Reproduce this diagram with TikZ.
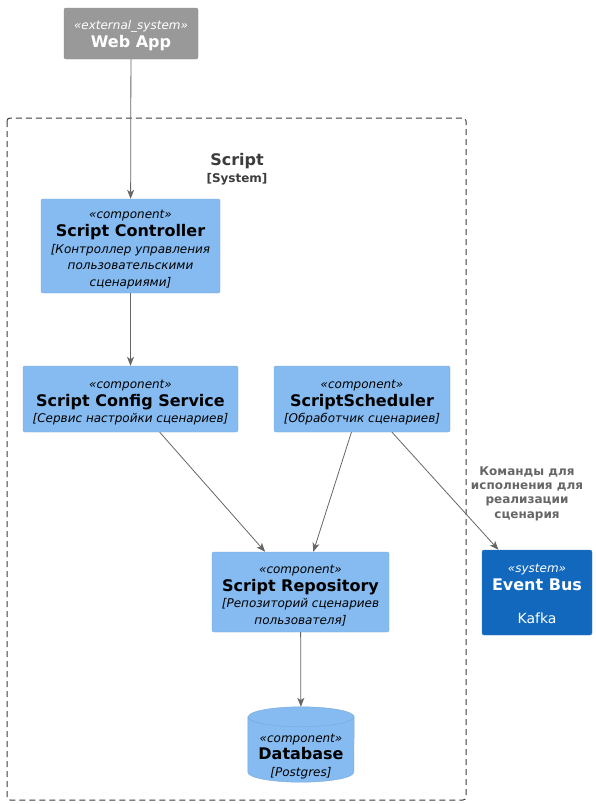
\documentclass[tikz,border=0pt]{standalone}
\usepackage{fontspec}
\setmainfont{DejaVu Sans}
\usetikzlibrary{shapes.geometric, arrows.meta, positioning}
\definecolor{compblue}{RGB}{133, 187, 240}
\definecolor{compborder}{RGB}{120, 168, 216}
\definecolor{sysblue}{RGB}{17, 104, 189}
\definecolor{sysborder}{RGB}{60, 127, 192}
\definecolor{extgray}{RGB}{153, 153, 153}
\definecolor{extborder}{RGB}{138, 138, 138}
\definecolor{linegray}{RGB}{102, 102, 102}
\definecolor{boundgray}{RGB}{60, 60, 60}

\begin{document}
\begin{tikzpicture}[x=1pt, y=-1pt,
  comp/.style={draw=compborder, fill=compblue, rounded corners=2pt, inner sep=0pt, align=center, font=\fontsize{12}{16.8}\selectfont},
  rel/.style={-{Stealth[length=9pt, width=7pt, inset=2.5pt]}, draw=linegray, line width=0.8pt}]
  \useasboundingbox (0, 0) rectangle (596, 804);

  % System boundary
  \draw[boundgray, dash pattern=on 6pt off 4pt, line width=1pt, rounded corners=3pt] (7, 118) rectangle (466, 800);
  \node[align=center, text=boundgray, font=\fontsize{12}{16.5}\selectfont\bfseries] (sysname) at (237, 169) {{\fontsize{16}{16}\selectfont Script}\\{[System]}};

  % External system
  \node[comp, draw=extborder, fill=extgray, text=white, minimum width=134pt, minimum height=51pt] (webapp) at (131, 33.5) {{\itshape\rule{0pt}{14pt}«external\_system»}\\[1pt]{\fontsize{16}{16}\selectfont\bfseries Web App}};

  % Components
  \node[comp, minimum width=179pt, minimum height=94pt] (ctrl) at (130.5, 246) {{\itshape\rule{0pt}{15.5pt}«component»}\\[1pt]{\fontsize{16}{16}\selectfont\bfseries Script Controller}\\{\itshape [Контроллер управления}\\{\itshape пользовательскими}\\{\itshape сценариями]}};
  \node[comp, minimum width=215pt, minimum height=66pt] (cfg) at (130.5, 399) {{\itshape\rule{0pt}{15.5pt}«component»}\\[1pt]{\fontsize{16}{16}\selectfont\bfseries Script Config Service}\\{\itshape [Сервис настройки сценариев]}};
  \node[comp, minimum width=176pt, minimum height=66pt] (sched) at (362, 399) {{\itshape\rule{0pt}{15.5pt}«component»}\\[1pt]{\fontsize{16}{16}\selectfont\bfseries ScriptScheduler}\\{\itshape [Обработчик сценариев]}};
  \node[comp, minimum width=177pt, minimum height=80pt] (repo) at (300.5, 592) {{\itshape\rule{0pt}{15.5pt}«component»}\\[1pt]{\fontsize{16}{16}\selectfont\bfseries Script Repository}\\{\itshape [Репозиторий сценариев}\\{\itshape пользователя]}};

  % Database cylinder
  \node[inner sep=0pt, minimum width=106pt, minimum height=75pt] (db) at (301, 744.5) {};
  \draw[draw=compborder, fill=compblue] ([yshift=-10pt]db.north west) -- ([yshift=10pt]db.south west) arc[start angle=180, end angle=360, x radius=53pt, y radius=10pt] -- ([yshift=-10pt]db.north east) arc[start angle=0, end angle=180, x radius=53pt, y radius=10pt] -- cycle;
  \draw[compborder] ([yshift=-10pt]db.north west) arc[start angle=180, end angle=360, x radius=53pt, y radius=10pt];
  \node[align=center, inner sep=0pt, font=\fontsize{12}{16.8}\selectfont] (dbtext) at (301, 756.5) {{\itshape «component»}\\{\fontsize{16}{16}\selectfont\bfseries Database}\\{\itshape [Postgres]}};

  % Event bus
  \node[comp, draw=sysborder, fill=sysblue, text=white, minimum width=110pt, minimum height=85pt] (bus) at (537, 592.5) {{\itshape\rule{0pt}{11pt}«system»}\\[1pt]{\fontsize{16}{16}\selectfont\bfseries Event Bus}\\[16pt]{\fontsize{14}{16}\selectfont Kafka}};

  % Relations
  \draw[rel] (webapp) -- (ctrl);
  \draw[rel] (ctrl) -- (cfg);
  \draw[rel] (cfg) -- (repo);
  \draw[rel] (sched) -- (repo);
  \draw[rel] (sched) -- (bus);
  \draw[rel] (repo) -- (db);
  \node[align=center, text=linegray, font=\fontsize{12}{14.3}\selectfont\bfseries] (cmdlabel) at (527, 493.5) {Команды для\\исполнения для\\реализации\\сценария};
\end{tikzpicture}
\end{document}
